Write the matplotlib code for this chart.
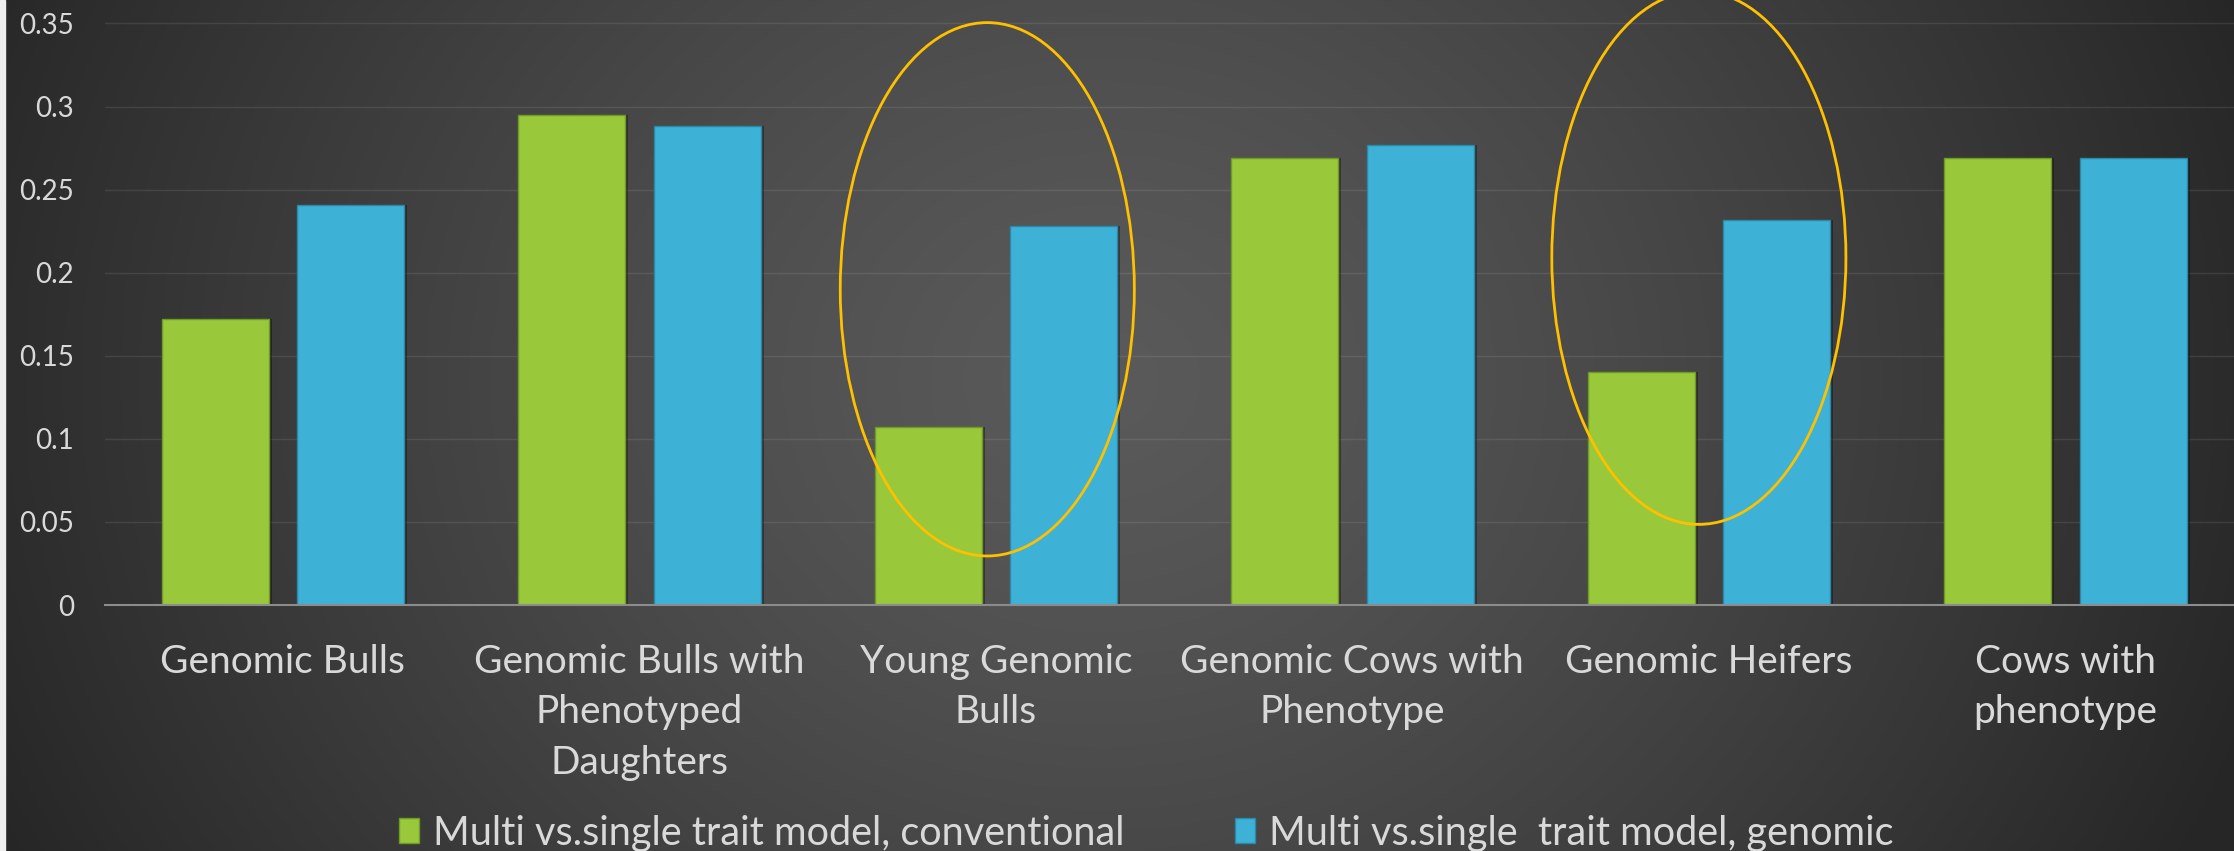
import matplotlib.pyplot as plt
import numpy as np
from matplotlib.patches import Ellipse, Rectangle, Patch

# ------ data ------ #
categories = ['Genomic Bulls',
              'Genomic Bulls with\nPhenotyped\nDaughters',
              'Young Genomic\nBulls',
              'Genomic Cows with\nPhenotype',
              'Genomic Heifers',
              'Cows with\nphenotype']
conventional = [0.172, 0.295, 0.107, 0.269, 0.140, 0.269]
genomic = [0.241, 0.288, 0.228, 0.277, 0.232, 0.269]
series_names = ['Multi vs.single trait model, conventional',
                'Multi vs.single  trait model, genomic']
yticks = [0, 0.05, 0.1, 0.15, 0.2, 0.25, 0.3, 0.35]
ytick_labels = ['0', '0.05', '0.1', '0.15', '0.2', '0.25', '0.3', '0.35']

green = '#99c93a'
blue = '#3eb2d6'
txt = '#d9d9d9'
plt.rcParams['font.family'] = ['Lato', 'DejaVu Sans']

W, H = 2234, 851
fig = plt.figure(figsize=(W / 100, H / 100), dpi=100)

# ------ background: dark radial gradient ------ #
bg = fig.add_axes([0, 0, 1, 1], zorder=0)
yy, xx = np.mgrid[0:H, 0:W]
d = np.sqrt(((xx - 1100) / 1150.0) ** 2 + ((yy - 380) / 1000.0) ** 2)
v = 90 - 48 * np.clip(d, 0, 1.2) ** 1.3
v = np.clip(v, 38, 255) / 255.0
bg.imshow(np.dstack([v, v, v]), extent=[0, W, H, 0], aspect='auto')
bg.add_patch(Rectangle((0, 0), 5, H, color='#eeeeee'))
bg.set_xlim(0, W)
bg.set_ylim(H, 0)
bg.axis('off')

# ------ main chart ------ #
left = 104.6 / W
right = 2243.6 / W
ax = fig.add_axes([left, (H - 605) / H, right - left, 605 / H], zorder=1)
ax.patch.set_alpha(0)

x = np.arange(len(categories))
off = 0.19
width = 0.30
# soft shadows
ax.bar(x - off + 0.009, conventional, width, color='black', alpha=0.35, zorder=2)
ax.bar(x + off + 0.009, genomic, width, color='black', alpha=0.35, zorder=2)
ax.bar(x - off, conventional, width, color=green, edgecolor='#6f9a28', linewidth=1, zorder=3)
ax.bar(x + off, genomic, width, color=blue, edgecolor='#2a88a8', linewidth=1, zorder=3)

# highlight ellipses
for cx, cy in [(1.976, 0.190), (3.972, 0.209)]:
    ax.add_patch(Ellipse((cx, cy), 0.825, 0.321, fill=False,
                         edgecolor='#ffc000', linewidth=2.0, zorder=4))

ax.set_xlim(-0.5, 5.5)
ax.set_ylim(0, 0.3641)
ax.set_yticks(yticks)
ax.set_yticklabels(ytick_labels)
ax.set_xticks(x)
ax.set_xticklabels(categories, linespacing=1.5)
ax.tick_params(axis='y', length=0, pad=22, labelsize=20, labelcolor=txt)
ax.tick_params(axis='x', length=0, pad=28, labelsize=28, labelcolor=txt)
ax.grid(axis='y', color='white', alpha=0.09, linewidth=1.0, zorder=1)
ax.set_axisbelow(True)
for s in ['top', 'right', 'left']:
    ax.spines[s].set_visible(False)
ax.spines['bottom'].set_color('#8c8c8c')
ax.spines['bottom'].set_linewidth(1.5)
ax.spines['bottom'].set_zorder(5)

handles = [Patch(facecolor=green, edgecolor='#6f9a28'),
           Patch(facecolor=blue, edgecolor='#2a88a8')]
fig.legend(handles, series_names, loc='center', bbox_to_anchor=(1146 / W, 18 / H),
           ncol=2, frameon=False, fontsize=28.5, labelcolor=txt,
           handlelength=0.5, handleheight=0.62, handletextpad=0.35, columnspacing=2.8)

fig.savefig('out.png', dpi=100)
